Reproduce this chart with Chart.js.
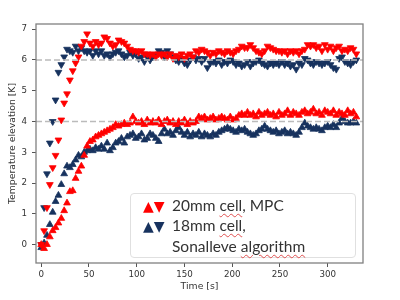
<!DOCTYPE html>
<html>
<head>
<meta charset="utf-8">
<script src="https://cdn.jsdelivr.net/npm/chart.js@4"></script>
<style>
  body { margin: 0; background: #fff; }
  #wrap { position: relative; width: 400px; height: 300px; }
  #legendBox {
    position: absolute; left: 130px; top: 193px; width: 224px; height: 63px;
    border: 1px solid #e0e0e0; border-radius: 4px; background: #fff;
    font-family: "Lato", sans-serif; font-size: 15.5px; color: #333;
  }
  .row { position: absolute; left: 12px; white-space: nowrap; line-height: 20px; }
  .tri { font-family: "DejaVu Sans"; font-size: 14px; }
  .txt { position: absolute; left: 29px; }
  .sq { text-decoration: underline wavy #e05050; text-decoration-thickness: 1px; text-underline-offset: 2px; }
</style>
</head>
<body>
<div id="wrap">
  <canvas id="chart" width="400" height="300"></canvas>
  <div id="legendBox">
    <div class="row" style="top:1px"><span class="tri" style="color:#ff0000">▲▼</span><span class="txt">20mm <span class="sq">cell</span>, MPC</span></div>
    <div class="row" style="top:21px"><span class="tri" style="color:#17325e">▲▼</span><span class="txt">18mm <span class="sq">cell</span>,</span></div>
    <div class="row" style="top:42px"><span class="txt">Sonalleve <span class="sq">algorithm</span></span></div>
  </div>
</div>
<script>
// time axis, seconds
const times = [0,3,6,9,12,15,18,21,24,27,30,33,36,39,42,45,48,51,54,57,60,63,66,69,72,75,78,81,84,87,90,93,96,99,102,105,108,111,114,117,120,123,126,129,132,135,138,141,144,147,150,153,156,159,162,165,168,171,174,177,180,183,186,189,192,195,198,201,204,207,210,213,216,219,222,225,228,231,234,237,240,243,246,249,252,255,258,261,264,267,270,273,276,279,282,285,288,291,294,297,300,303,306,309,312,315,318,321,324,327,330];

// 20mm cell, MPC
const redDown = [0.0,0.45,1.2,1.95,2.5,2.9,3.4,4.05,4.6,4.9,
  5.35,5.65,5.9,6.1,6.45,6.6,6.85,6.55,6.45,6.6,
  6.5,6.55,6.75,6.7,6.55,6.45,6.5,6.65,6.6,6.55,
  6.45,6.35,6.3,6.3,6.25,6.3,6.2,6.2,6.15,6.2,
  6.1,6.2,6.15,6.2,6.1,6.2,6.05,6.15,6.1,6.2,
  6.05,6.15,6.2,6.1,6.3,6.25,6.35,6.3,6.25,6.15,
  6.25,6.2,6.3,6.25,6.2,6.3,6.25,6.2,6.3,6.35,
  6.45,6.4,6.4,6.5,6.4,6.3,6.25,6.2,6.3,6.45,
  6.4,6.35,6.3,6.3,6.25,6.3,6.2,6.3,6.25,6.3,
  6.2,6.3,6.35,6.5,6.45,6.5,6.4,6.45,6.3,6.5,
  6.35,6.45,6.3,6.4,6.45,6.3,6.35,6.3,6.4,6.35,
  6.2];
const redUp = [0.0,-0.13,0.0,0.25,0.45,0.55,0.7,0.85,1.1,1.35,
  1.72,1.75,2.15,2.38,2.55,2.9,3.2,3.35,3.4,3.5,
  3.55,3.6,3.65,3.7,3.75,3.8,3.9,3.85,3.9,3.95,
  3.9,3.95,4.15,4.0,3.95,4.0,3.9,4.05,3.95,4.0,
  3.95,4.05,3.9,4.0,4.05,3.95,4.0,3.9,4.0,3.95,
  4.05,3.9,4.0,3.95,4.0,4.15,4.1,4.15,4.05,4.1,
  4.15,4.05,4.1,4.15,4.1,4.05,4.15,4.05,4.1,4.2,
  4.25,4.2,4.3,4.2,4.25,4.15,4.3,4.2,4.25,4.3,
  4.2,4.25,4.15,4.3,4.2,4.25,4.35,4.2,4.3,4.25,
  4.2,4.3,4.35,4.25,4.3,4.4,4.25,4.3,4.2,4.35,
  4.3,4.25,4.35,4.2,4.3,4.25,4.2,4.35,4.25,4.3,
  4.15];

// 18mm cell, Sonalleve algorithm
const navyDown = [0.0,1.2,2.3,3.3,4.0,4.7,5.6,5.85,6.1,6.35,
  6.3,6.25,6.45,6.3,6.4,6.3,6.25,6.3,6.15,6.3,
  6.2,6.3,6.15,6.2,6.1,6.2,6.25,6.3,6.2,6.1,
  6.15,6.25,6.15,6.2,6.05,6.1,5.95,6.1,6.0,6.1,
  6.15,6.3,6.25,6.1,6.3,6.2,6.1,6.0,5.95,6.05,
  5.9,5.85,6.0,6.1,6.0,6.05,5.95,6.05,5.75,5.9,
  5.95,5.9,6.0,5.85,5.95,5.9,6.0,5.95,5.85,5.9,
  5.8,5.85,5.95,5.8,5.9,5.95,6.0,5.9,5.85,5.8,
  5.9,5.85,5.9,5.85,5.95,5.85,5.9,5.8,5.85,5.7,
  5.9,5.85,6.05,6.0,5.9,5.85,5.95,5.9,5.85,5.9,
  5.95,5.85,5.75,5.7,6.05,6.1,5.95,5.9,5.85,5.95,
  6.0];
const navyUp = [-0.1,0.05,0.3,0.65,1.05,1.4,1.6,1.95,2.3,2.55,
  2.5,2.6,2.75,2.9,2.85,3.0,3.05,3.1,3.05,3.15,
  3.1,3.2,3.1,3.3,3.05,3.15,3.3,3.35,3.45,3.3,
  3.5,3.55,3.6,3.45,3.5,3.6,3.4,3.45,3.6,3.55,
  3.45,3.35,3.6,3.75,3.6,3.65,3.55,3.7,3.8,3.65,
  3.55,3.65,3.5,3.6,3.55,3.65,3.5,3.6,3.55,3.5,
  3.6,3.55,3.65,3.7,3.75,3.8,3.75,3.7,3.65,3.75,
  3.7,3.75,3.65,3.6,3.55,3.6,3.7,3.75,3.85,3.75,
  3.7,3.65,3.7,3.6,3.65,3.7,3.6,3.65,3.6,3.55,
  3.65,3.8,3.95,3.85,3.8,3.75,3.8,3.75,3.7,3.8,
  3.85,3.8,3.9,3.8,3.95,4.1,4.0,3.95,3.95,4.0,
  3.95];

const refLevels = [6, 4];
const xMin = -5.5, xMax = 337;
const yMin = -0.6, yMax = 7.17;
const xTicks = [0, 50, 100, 150, 200, 250, 300];
const yTicks = [0, 1, 2, 3, 4, 5, 6, 7];

const RED = '#ff0000';
const NAVY = '#17325e';

const pts = (arr) => arr.map((v, i) => ({ x: times[i], y: v }));

function markers(data, color, down) {
  return {
    type: 'scatter', data: pts(data),
    pointStyle: 'triangle', pointRotation: down ? 180 : 0,
    pointRadius: 3.9, pointBorderWidth: 0.8,
    pointBackgroundColor: color, pointBorderColor: color
  };
}

const refLines = refLevels.map(l => ({
  type: 'line',
  data: [{ x: xMin, y: l }, { x: xMax, y: l }],
  borderColor: '#bbbbbb', borderWidth: 1.5, borderDash: [6, 3],
  pointRadius: 0, fill: false
}));

// frame on all four sides, like the source figure
const frame = {
  id: 'frame',
  afterDraw(chart) {
    const { ctx, chartArea: a } = chart;
    ctx.save();
    ctx.strokeStyle = '#808080';
    ctx.lineWidth = 1.3;
    ctx.strokeRect(a.left, a.top, a.right - a.left, a.bottom - a.top);
    ctx.restore();
  }
};

const tickFont = { family: 'DejaVu Sans', size: 8.7 };
const titleFont = { family: 'DejaVu Sans', size: 9.3 };

new Chart(document.getElementById('chart'), {
  data: {
    datasets: [
      ...refLines,
      markers(redUp, RED, false),
      markers(redDown, RED, true),
      markers(navyUp, NAVY, false),
      markers(navyDown, NAVY, true)
    ]
  },
  options: {
    responsive: false,
    animation: false,
    layout: { padding: { left: 0, top: 24, right: 37, bottom: 0 } },
    plugins: { legend: { display: false }, tooltip: { enabled: false } },
    scales: {
      x: {
        type: 'linear', min: xMin, max: xMax,
        afterFit: (s) => { s.height = 37; },
        afterBuildTicks: (s) => { s.ticks = xTicks.map(v => ({ value: v })); },
        grid: { drawOnChartArea: false, drawTicks: true, tickLength: 4, color: '#555' },
        border: { display: false },
        ticks: { font: tickFont, color: '#333', padding: 3, maxRotation: 0 },
        title: { display: true, text: 'Time [s]', font: titleFont, color: '#333', padding: { top: 0, bottom: 7.5 } }
      },
      y: {
        type: 'linear', min: yMin, max: yMax,
        afterFit: (s) => { s.width = 36; },
        afterBuildTicks: (s) => { s.ticks = yTicks.map(v => ({ value: v })); },
        grid: { drawOnChartArea: false, drawTicks: true, tickLength: 4, color: '#555' },
        border: { display: false },
        ticks: { font: tickFont, color: '#333', padding: 5 },
        title: { display: true, text: 'Temperature elevation [K]', font: titleFont, color: '#333', padding: { top: 7, bottom: 0 } }
      }
    }
  },
  plugins: [frame]
});
</script>
</body>
</html>
